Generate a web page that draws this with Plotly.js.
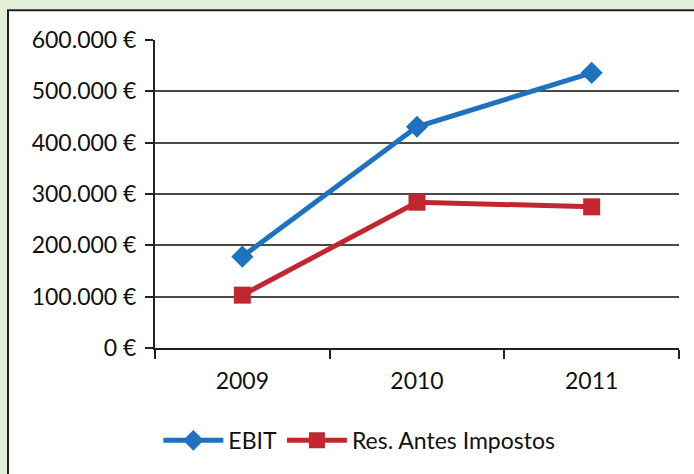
<!DOCTYPE html>
<html>
<head>
<meta charset="utf-8">
<script src="https://cdn.plot.ly/plotly-3.0.1.min.js"></script>
<style>html,body{margin:0;padding:0;background:#e4efd9;}#chart{width:694px;height:474px;}</style>
</head>
<body>
<div id="chart"></div>
<script>
const years = ['2009', '2010', '2011'];
const ebit = [178000, 431000, 536000];
const resAntesImpostos = [103000, 284000, 275000];
const yTickVals = [0, 100000, 200000, 300000, 400000, 500000, 600000];
const yTickText = ['0 €', '100.000 €', '200.000 €', '300.000 €', '400.000 €', '500.000 €', '600.000 €'];

const FONT = 'Lato, "Open Sans", sans-serif';

const traces = [
  {
    x: years, y: ebit, name: 'EBIT', type: 'scatter', mode: 'lines+markers',
    line: {color: '#1f72bd', width: 5},
    marker: {symbol: 'diamond', size: 17, color: '#1f72bd'}
  },
  {
    x: years, y: resAntesImpostos, name: 'Res. Antes Impostos', type: 'scatter', mode: 'lines+markers',
    line: {color: '#c0272f', width: 5},
    marker: {symbol: 'square', size: 17, color: '#c0272f'}
  }
];

const layout = {
  width: 694, height: 474,
  margin: {l: 155, r: 15, t: 40, b: 124},
  paper_bgcolor: '#e4efd9',
  plot_bgcolor: 'rgba(0,0,0,0)',
  font: {family: FONT, size: 23, color: '#111'},
  showlegend: true,
  legend: {orientation: 'h', x: 0.39, xanchor: 'center', y: -0.23, yanchor: 'top',
    font: {family: FONT, size: 23, color: '#111'}, bgcolor: 'rgba(0,0,0,0)', itemwidth: 60},
  xaxis: {
    type: 'category', range: [-0.5, 2.5], tickson: 'boundaries',
    showgrid: false, showline: true, linecolor: '#222', linewidth: 2,
    ticks: 'outside', ticklen: 9, tickwidth: 2, tickcolor: '#222',
    ticklabelstandoff: 11,
    tickfont: {family: FONT, size: 23, color: '#111'}, zeroline: false
  },
  yaxis: {
    range: [0, 600000], tickvals: yTickVals, ticktext: yTickText,
    showgrid: true, gridcolor: '#4a4a4a', gridwidth: 2,
    showline: true, linecolor: '#222', linewidth: 2,
    ticks: 'outside', ticklen: 8, tickwidth: 2, tickcolor: '#222',
    ticklabelstandoff: 4,
    tickfont: {family: FONT, size: 23, color: '#111'}, zeroline: false
  },
  shapes: [{
    type: 'rect', xref: 'paper', yref: 'paper', layer: 'below',
    x0: (8 - 155) / 524, x1: 1.2, y0: -0.6, y1: (350 - 10) / 310,
    fillcolor: '#ffffff', line: {color: '#222', width: 2}
  }]
};

Plotly.newPlot('chart', traces, layout, {displayModeBar: false, staticPlot: true});
</script>
</body>
</html>
